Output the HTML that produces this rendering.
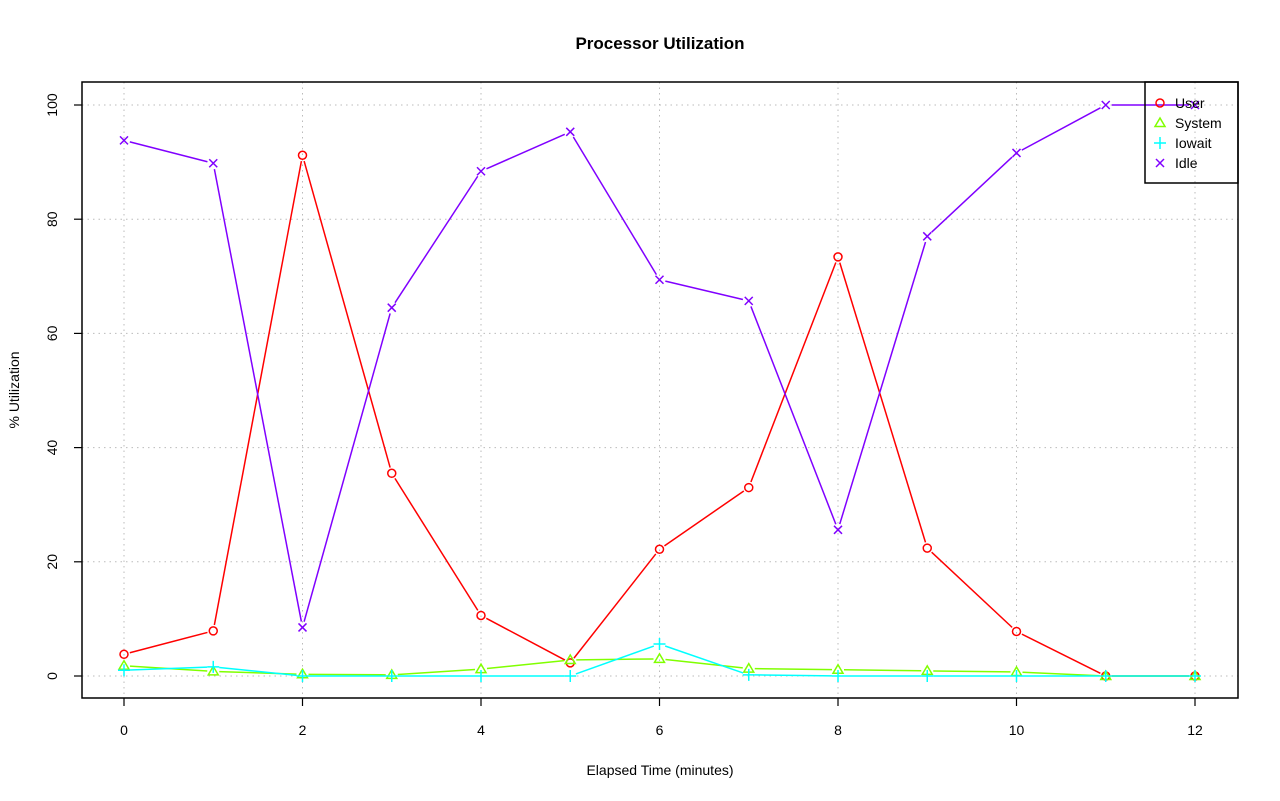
<!DOCTYPE html><html><head><style>body{margin:0;background:#fff}svg{display:block}text{font-family:"Liberation Sans",sans-serif}</style></head><body>
<svg id="s" width="1280" height="801" xmlns="http://www.w3.org/2000/svg">
<text x="660" y="49" font-size="17" font-weight="bold" text-anchor="middle">Processor Utilization</text>
<text x="660" y="775" font-size="14" text-anchor="middle">Elapsed Time (minutes)</text>
<text x="19" y="390" font-size="14" text-anchor="middle" transform="rotate(-90 19 390)">% Utilization</text>
</svg>
<script>
var s=document.getElementById('s'),NS='http://www.w3.org/2000/svg';
function X(v){return 124+v*89.25}function Y(v){return 676-v*5.71}
function el(t,a,txt){var e=document.createElementNS(NS,t);for(var k in a)e.setAttribute(k,a[k]);if(txt!=null)e.textContent=txt;s.appendChild(e);return e}
for(var i=0;i<=12;i+=2){el('line',{x1:X(i),x2:X(i),y1:82,y2:698,stroke:'#bbb','stroke-dasharray':'1.5,4'});
el('line',{x1:X(i),x2:X(i),y1:698,y2:706,stroke:'#000','stroke-width':1.2});el('text',{x:X(i),y:735,'font-size':14,'text-anchor':'middle'},i)}
for(var j=0;j<=100;j+=20){el('line',{y1:Y(j),y2:Y(j),x1:82,x2:1238,stroke:'#bbb','stroke-dasharray':'1.5,4'});
el('line',{y1:Y(j),y2:Y(j),x1:74,x2:82,stroke:'#000','stroke-width':1.2});el('text',{x:57,y:Y(j),'font-size':14,'text-anchor':'middle',transform:'rotate(-90 57 '+Y(j)+')'},j)}
var D={User:[3.8,7.9,91.2,35.5,10.6,2.3,22.2,33,73.4,22.4,7.8,0,0],
System:[1.8,0.8,0.3,0.2,1.2,2.8,3.0,1.3,1.1,0.9,0.7,0,0],
Iowait:[1.0,1.6,0,0,0,0,5.6,0.2,0,0,0,0,0],
Idle:[93.8,89.8,8.5,64.5,88.4,95.3,69.4,65.7,25.6,77,91.6,100,100]};
var C={User:'#ff0000',System:'#80ff00',Iowait:'#00ffff',Idle:'#8000ff'};
function sym(n,x,y){var c=C[n];if(n=='User')el('circle',{cx:x,cy:y,r:4,fill:'none',stroke:c,'stroke-width':1.5});
else if(n=='System')el('polygon',{points:(x)+','+(y-5)+' '+(x-5)+','+(y+3.5)+' '+(x+5)+','+(y+3.5),fill:'none',stroke:c,'stroke-width':1.5});
else if(n=='Iowait'){el('path',{d:'M'+(x-6)+' '+y+'h12M'+x+' '+(y-6)+'v12',stroke:c,'stroke-width':1.5})}
else el('path',{d:'M'+(x-4)+' '+(y-4)+'l8 8M'+(x+4)+' '+(y-4)+'l-8 8',stroke:c,'stroke-width':1.5});}
['User','System','Iowait','Idle'].forEach(function(n){var d=D[n];
for(var i=0;i<d.length-1;i++){var x1=X(i),y1=Y(d[i]),x2=X(i+1),y2=Y(d[i+1]),dx=x2-x1,dy=y2-y1,L=Math.sqrt(dx*dx+dy*dy),g=6;
if(L>2*g)el('line',{x1:x1+dx*g/L,y1:y1+dy*g/L,x2:x2-dx*g/L,y2:y2-dy*g/L,stroke:C[n],'stroke-width':1.5});}
d.forEach(function(v,i){sym(n,X(i),Y(v))})});
el('rect',{x:82,y:82,width:1156,height:616,fill:'none',stroke:'#000','stroke-width':1.5});
el('rect',{x:1145,y:82,width:93,height:101,fill:'none',stroke:'#000','stroke-width':1.5});
['User','System','Iowait','Idle'].forEach(function(n,i){var y=103+i*20;sym(n,1160,y);el('text',{x:1175,y:y+5,'font-size':14},n)});
</script></body></html>
